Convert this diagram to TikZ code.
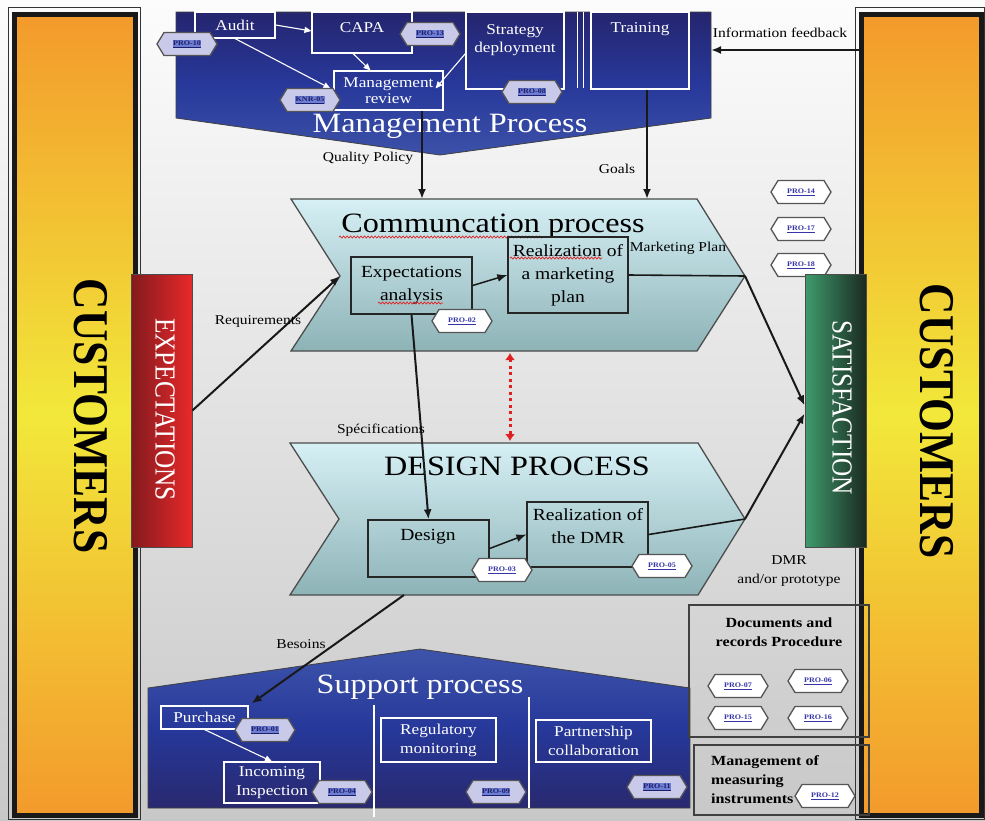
\documentclass[tikz,border=0pt]{standalone}
\usepackage{fontspec}
\setmainfont{Liberation Serif}[FakeStretch=1.15]
\newfontfamily\rotfont{Liberation Serif}[FakeStretch=0.87]
\usetikzlibrary{arrows.meta,calc,decorations.pathmorphing}

\definecolor{bgTop}{HTML}{FCFCFC}
\definecolor{bgBot}{HTML}{C8C8C8}
\definecolor{custOr}{HTML}{F39A2C}
\definecolor{custYe}{HTML}{F2E83A}
\definecolor{mgTop}{HTML}{25256E}
\definecolor{mgMid}{HTML}{27389A}
\definecolor{mgBot}{HTML}{3C51A8}
\definecolor{spTop}{HTML}{3E54AA}
\definecolor{spMid}{HTML}{26389A}
\definecolor{spBot}{HTML}{29296F}
\definecolor{chTop}{HTML}{D6F0F5}
\definecolor{chBot}{HTML}{8DB3B7}
\definecolor{exL}{HTML}{821A1D}
\definecolor{exR}{HTML}{E8292B}
\definecolor{saL}{HTML}{3E9B6D}
\definecolor{saR}{HTML}{1B2A20}
\definecolor{tagLav}{HTML}{C9C9E9}
\definecolor{tagEdge}{HTML}{555555}
\definecolor{tagTxt}{HTML}{3535A8}
\definecolor{hlBlue}{HTML}{6E7ED2}
\definecolor{hlTxt}{HTML}{1D1D6A}
\definecolor{squig}{HTML}{E02020}

\begin{document}
\begin{tikzpicture}[x=1pt,y=-1pt,
  custbar/.style={draw=black!90, line width=5, inner sep=0, outer sep=0,
    top color=custOr, bottom color=custOr, middle color=custYe},
  frame/.style={draw=black!80, line width=0.8},
  custtext/.style={rotate=-90, inner sep=0, font=\rotfont\bfseries\fontsize{50}{52}\selectfont},
  bartext/.style={rotate=-90, inner sep=0, text=white, font=\rotfont\fontsize{29}{30}\selectfont},
  mbox/.style={draw=white, line width=1.1, inner sep=0, text=white, align=center,
    font=\fontsize{15}{16}\selectfont},
  mtext/.style={inner sep=0, text=white, align=center, font=\fontsize{15}{18}\selectfont},
  cbox/.style={draw=black!85, line width=1.3, inner sep=0, align=center,
    font=\fontsize{17}{23}\selectfont},
  ctext/.style={inner sep=0, align=center, font=\fontsize{17}{23}\selectfont},
  chev/.style={draw=black!70, line width=1.3, top color=chTop, bottom color=chBot},
  title/.style={inner sep=0, font=\fontsize{28}{30}\selectfont},
  lbl/.style={inner sep=0, align=center, font=\fontsize{13.5}{19}\selectfont},
  boldlbl/.style={inner sep=0, align=center, font=\bfseries\fontsize{14}{19}\selectfont},
  warrow/.style={draw=white, line width=1.1, -{Triangle[length=7,width=6]}},
  barrow/.style={draw=black!90, line width=2, -{Latex[length=10,width=8]}},
  plain/.style={draw=black!90, line width=1.6},
  redarrow/.style={draw=squig, line width=3, dash pattern=on 3 off 3.5,
    {Latex[length=7,width=10]}-{Latex[length=7,width=10]}},
  wavy/.style={draw=squig, line width=0.7,
    decorate, decoration={snake, amplitude=1, segment length=3.5}},
  tagtext/.style={inner sep=0.6, text=tagTxt, font=\bfseries\fontsize{7}{8}\selectfont},
  pics/tagw/.style={code={
    \path[draw=tagEdge, line width=1.3, fill=white]
      (-30,0) -- (-23,-11.5) -- (23,-11.5) -- (30,0) -- (23,11.5) -- (-23,11.5) -- cycle;
    \node[tagtext] (-t) {\underline{#1}};
  }},
  pics/tagh/.style={code={
    \path[draw=tagEdge, line width=1.3, fill=tagLav]
      (-30,0) -- (-23,-11.5) -- (23,-11.5) -- (30,0) -- (23,11.5) -- (-23,11.5) -- cycle;
    \node[tagtext, fill=hlBlue, text=hlTxt] (-t) {\underline{#1}};
  }},
]
\useasboundingbox (0,0) rectangle (985,820);
\shade[top color=bgTop, bottom color=bgBot] (0,0) rectangle (985,820);

% ---------- customer columns ----------
\node[custbar, minimum width=121, minimum height=800.5] (custL) at (75,414.75) {};
\draw[frame] ($(custL.north west)+(-6.5,-7.5)$) rectangle ($(custL.south east)+(5,4)$);
\node[custtext] (custL-t) at (91,416) {CUSTOMERS};

\node[custbar, minimum width=120, minimum height=800.5] (custR) at (921.5,414.75) {};
\draw[frame] ($(custR.north west)+(-6.5,-7.5)$) rectangle ($(custR.south east)+(3,4)$);
\node[custtext] (custR-t) at (937,421) {CUSTOMERS};

% ---------- management process ----------
\path[draw=black!75, line width=0.8, top color=mgTop, bottom color=mgBot, middle color=mgMid]
  (176,12) -- (711,12) -- (711,118) -- (440,155) -- (176,118) -- cycle;
\coordinate (mgRight) at (711,50);
\draw[white, line width=1] (577,12) -- (577,88);
\draw[white, line width=1] (583,12) -- (583,88);

\node[mbox, minimum width=80, minimum height=26] (audit) at (235,25) {Audit};
\node[mbox, minimum width=100, minimum height=41] (capa) at (362,32.5) {};
\node[mtext] (capa-t) at (362,28) {CAPA};
\node[mbox, minimum width=98, minimum height=77] (strat) at (515,50.5) {};
\node[mtext] (strat-t) at (515,40) {Strategy\\deployment};
\node[mbox, minimum width=109, minimum height=39] (mrev) at (388.5,90.5) {Management\\review};
\node[mbox, minimum width=98, minimum height=77] (train) at (640,50.5) {};
\node[mtext] (train-t) at (640,29) {Training};

\draw[warrow] (audit.east) -- ($(capa.west)+(0,-1.5)$);
\draw[warrow] (audit.south) -- ($(mrev.west)+(-3,-2)$);
\draw[warrow] ($(capa.south)+(-9,0)$) -- ($(mrev.north)+(-18,0)$);
\draw[warrow] ($(strat.west)+(0,3)$) -- ($(mrev.north east)+(-8,18)$);

\node[title, text=white, anchor=base] (mgT) at (450,132) {Management Process};

\pic (t10) at (187,44) {tagh=PRO-10};
\pic (t13) at (430,34) {tagh=PRO-13};
\pic (k05) at (310,100) {tagh=KNR-05};
\pic (t08) at (532,92) {tagh=PRO-08};

% ---------- side tags ----------
\pic (t14) at (801,192) {tagw=PRO-14};
\pic (t17) at (801,229) {tagw=PRO-17};
\pic (t18) at (801,265) {tagw=PRO-18};

% ---------- expectations / satisfaction ----------
\node[draw=black!70, line width=0.8, inner sep=0, minimum width=61, minimum height=273,
  left color=exL, right color=exR] (expect) at (161.5,410.5) {};
\node[bartext] (expect-t) at (165,409.5) {EXPECTATIONS};
\node[draw=black!70, line width=0.8, inner sep=0, minimum width=61, minimum height=273,
  left color=saL, right color=saR] (satis) at (835.5,410.5) {};
\node[bartext] (satis-t) at (842,407.5) {SATISFACTION};

% ---------- communication process ----------
\path[chev] (291,199) -- (697,199) -- (745,276) -- (697,351) -- (291,351) -- (340,276) -- cycle;
\coordinate (commNotch) at (340,276);
\coordinate (commTip) at (745,276);
\coordinate (commQ) at (422,199);
\coordinate (commG) at (647,199);
\coordinate (commBot) at (510,353);
\node[title, anchor=base] (commT) at (493,232) {Communcation process};
\draw[wavy] (339,237) -- (543,237);

\node[cbox, minimum width=121, minimum height=57] (expan) at (411.5,285.5) {Expectations\\analysis};
\node[cbox, minimum width=120, minimum height=76] (real) at (568,275) {Realization of\\a marketing\\plan};
\draw[wavy] (510,258) -- (602,258);
\draw[wavy] (378,303) -- (443,303);
\pic (t02) at (462,321) {tagw=PRO-02};

% ---------- design process ----------
\path[chev] (290,443) -- (698,443) -- (745,519) -- (698,595) -- (290,595) -- (339,519) -- cycle;
\coordinate (desTip) at (745,519);
\coordinate (desTop) at (510,441);
\coordinate (desBot) at (404,595);
\node[title, anchor=base] (desT) at (517,475) {DESIGN PROCESS};

\node[cbox, minimum width=121, minimum height=57] (design) at (428.5,548.5) {};
\node[ctext] (design-t) at (428,537) {Design};
\node[cbox, minimum width=121, minimum height=65] (dmr) at (587.5,534.5) {};
\node[ctext] (dmr-t) at (588,526) {Realization of\\the DMR};
\pic (t03) at (502,570) {tagw=PRO-03};
\pic (t05) at (662,566) {tagw=PRO-05};

% ---------- support process ----------
\path[draw=black!75, line width=0.8, top color=spTop, bottom color=spBot, middle color=spMid]
  (148,688) -- (420,649) -- (690,688) -- (690,808) -- (148,808) -- cycle;
\draw[white, line width=1.2] (374,705) -- (374,817);
\draw[white, line width=1.2] (529,697) -- (529,808);
\node[title, text=white, anchor=base] (supT) at (420,693) {Support process};

\node[mbox, minimum width=87, minimum height=23] (purchase) at (204.5,717.5) {Purchase};
\node[mbox, minimum width=96, minimum height=41, font=\fontsize{15}{19}\selectfont] (incoming) at (272,782.5) {Incoming\\Inspection};
\node[mbox, minimum width=115, minimum height=44, font=\fontsize{15}{19}\selectfont] (regmon) at (438.5,740) {Regulatory\\monitoring};
\node[mbox, minimum width=115, minimum height=42, font=\fontsize{15}{19}\selectfont] (partner) at (593.5,741) {Partnership\\collaboration};
\draw[warrow] (purchase.south) -- (incoming.north);

\pic (t01) at (265,730) {tagh=PRO-01};
\pic (t04) at (342,792) {tagh=PRO-04};
\pic (t09) at (496,792) {tagh=PRO-09};
\pic (t11) at (657,787) {tagh=PRO-11};

% ---------- documents and measuring ----------
\node[draw=black!75, line width=1.1, inner sep=0, minimum width=180, minimum height=132] (docs) at (779,671) {};
\node[boldlbl] (docs-t) at (779,632.5) {Documents and\\records Procedure};
\pic (t07) at (738,686) {tagw=PRO-07};
\pic (t06) at (818,681) {tagw=PRO-06};
\pic (t15) at (738,718) {tagw=PRO-15};
\pic (t16) at (818,718) {tagw=PRO-16};

\node[draw=black!75, line width=1.1, inner sep=0, minimum width=175, minimum height=70] (meas) at (781.5,780) {};
\node[boldlbl, align=left, anchor=west] (meas-t) at (711,780) {Management of\\measuring\\instruments};
\pic (t12) at (825,796) {tagw=PRO-12};

% ---------- connectors ----------
\draw[barrow, line width=2.5] (mrev.south -| commQ) -- (commQ);
\draw[barrow, line width=2.5] (train.south -| commG) -- (commG);
\draw[barrow] (custR.west |- mgRight) -- (mgRight);
\draw[barrow] (expect.east) -- (commNotch);
\draw[barrow, line width=1.5] (expan.east) -- (real.west);
\draw[plain] (real.east) -- (commTip);
\draw[barrow] (commTip) -- ($(satis.west)+(0,-5)$);
\draw[barrow] (expan.south) -- (design.north);
\draw[barrow, line width=1.5] (design.east) -- (dmr.west);
\draw[plain] (dmr.east) -- (desTip);
\draw[barrow] (desTip) -- ($(satis.west)+(0,3)$);
\draw[redarrow] (commBot) -- (desTop);
\draw[barrow] (desBot) -- ($(purchase.north east)+(3,-2)$);

% ---------- connector labels ----------
\node[lbl] (lQP) at (368,158) {Quality Policy};
\node[lbl] (lGoals) at (617,169) {Goals};
\node[lbl] (lInfo) at (780,33) {Information feedback};
\node[lbl] (lReq) at (258,321) {Requirements};
\node[lbl] (lSpec) at (381,430) {Spécifications};
\node[lbl] (lMkt) at (678,248) {Marketing Plan};
\node[lbl] (lBes) at (301,644) {Besoins};
\node[lbl] (lDMR) at (789,571) {DMR\\and/or prototype};
\end{tikzpicture}
\end{document}
